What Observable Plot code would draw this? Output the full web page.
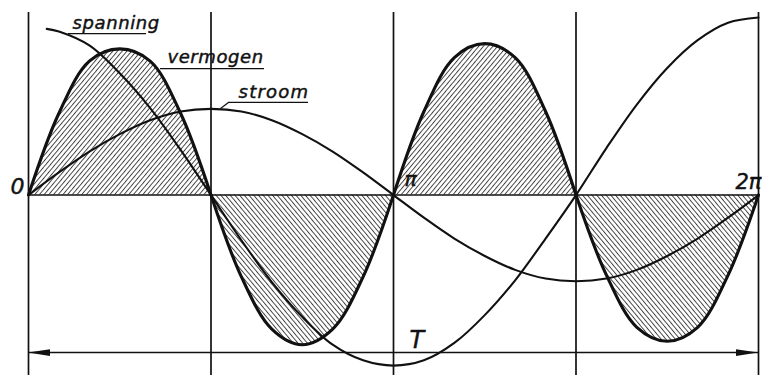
<!DOCTYPE html>
<html>
<head>
<meta charset="utf-8">
<script src="https://cdn.jsdelivr.net/npm/d3@7"></script>
<script src="https://cdn.jsdelivr.net/npm/@observablehq/plot@0.6"></script>
<style>
  html, body { margin: 0; padding: 0; background: #fff; }
  #chart svg { display: block; }
</style>
</head>
<body>
<div id="chart"></div>
<script>
// Phase angle in degrees, sampled every 15°
const phase = [0, 15, 30, 45, 60, 75, 90, 105, 120, 135, 150, 165, 180,
               195, 210, 225, 240, 255, 270, 285, 300, 315, 330, 345, 360];

// Voltage (spanning) – drawn from just after the origin
const spanningPhase = [9, 15, 30, 45, 60, 75, 90, 105, 120, 135, 150, 165, 180,
                       195, 210, 225, 240, 255, 270, 285, 300, 315, 330, 345, 360];
const spanning = [0.955, 0.94, 0.86, 0.70, 0.50, 0.26, 0.0, -0.26, -0.50, -0.70, -0.86, -0.95, -0.98,
                  -0.95, -0.85, -0.69, -0.49, -0.25, 0.0, 0.27, 0.52, 0.73, 0.89, 0.99, 1.02];

// Current (stroom)
const stroom = [0, 0.13, 0.25, 0.35, 0.43, 0.48, 0.495, 0.48, 0.43, 0.35, 0.25, 0.13, 0,
                -0.13, -0.25, -0.35, -0.43, -0.48, -0.495, -0.48, -0.43, -0.35, -0.25, -0.13, 0];

// Power (vermogen)
const vermogen = [0, 0.47, 0.77, 0.84, 0.77, 0.47, 0, -0.47, -0.77, -0.86, -0.77, -0.47, 0,
                  0.48, 0.79, 0.87, 0.79, 0.48, 0, -0.46, -0.76, -0.84, -0.76, -0.46, 0];

// Quarter-period grid lines and axis labels
const quarterTicks = [0, 90, 180, 270, 360];
const tickPhase = [0, 180, 360];
const tickLabels = ["0", "π", "2π"];

const spanningRows = spanningPhase.map((p, i) => ({phase: p, value: spanning[i]}));
const stroomRows = phase.map((p, i) => ({phase: p, value: stroom[i]}));

// Split the power curve into its four half-lobes (shared zero points)
const lobes = [];
for (let k = 0; k < 4; k++) {
  phase.forEach((p, i) => {
    if (p >= 90 * k && p <= 90 * (k + 1)) {
      lobes.push({phase: p, value: vermogen[i], lobe: k, sign: k % 2 === 0 ? 1 : -1});
    }
  });
}

const ink = "#111";
const font = "'DejaVu Sans', 'Liberation Sans', sans-serif";
const italic = {fontFamily: font, fontStyle: "italic", fill: ink, stroke: ink, strokeWidth: 0.45,
                textAnchor: "start", lineAnchor: "bottom"};

const tickLayout = [
  {textAnchor: "end", dx: -4, dy: -1, fontSize: 22},
  {textAnchor: "start", dx: 11, dy: -9, fontSize: 20},
  {textAnchor: "end", dx: 3, dy: -6, fontSize: 21}
];

const chart = Plot.plot({
  width: 762,
  height: 378,
  marginLeft: 28,
  marginRight: 4,
  marginTop: 12,
  marginBottom: 3,
  x: {domain: [0, 360], axis: null},
  y: {domain: [-1.037, 1.049], axis: null},
  style: {background: "#fff"},
  marks: [
    // hatched power lobes
    Plot.areaY(lobes, {filter: d => d.sign > 0, x: "phase", y: "value", z: "lobe",
      curve: "catmull-rom", fill: "url(#hatch-pos)"}),
    Plot.areaY(lobes, {filter: d => d.sign < 0, x: "phase", y: "value", z: "lobe",
      curve: "catmull-rom", fill: "url(#hatch-neg)"}),

    // quarter-period verticals and the zero line
    Plot.ruleX(quarterTicks, {stroke: ink, strokeWidth: 1.7}),
    Plot.ruleY([0], {x1: 0, x2: 360, stroke: ink, strokeWidth: 1.6}),

    // voltage, current, power
    Plot.line(spanningRows, {x: "phase", y: "value", curve: "catmull-rom", stroke: ink, strokeWidth: 2.1}),
    Plot.line(stroomRows, {x: "phase", y: "value", curve: "catmull-rom", stroke: ink, strokeWidth: 2.1}),
    Plot.line(lobes, {x: "phase", y: "value", z: "lobe", curve: "catmull-rom", stroke: ink, strokeWidth: 3.1}),

    // period T
    Plot.ruleY([-0.905], {x1: 0, x2: 360, stroke: ink, strokeWidth: 1.4, ariaDescription: "period"}),
    Plot.text(["T"], {...italic, x: 180, y: -0.905, dx: 16, dy: -5, fontSize: 24}),

    // axis labels 0, π, 2π
    ...tickPhase.map((p, i) =>
      Plot.text([tickLabels[i]], {...italic, x: p, y: 0, ...tickLayout[i]})),

    // call-outs with underline leaders
    Plot.text(["spanning"], {...italic, x: 21.7, y: 0.957, fontSize: 18, ariaDescription: "callout"}),
    Plot.ruleY([0.928], {x1: 19.7, x2: 58.2, stroke: ink, strokeWidth: 1.2}),

    Plot.text(["vermogen"], {...italic, x: 68.5, y: 0.756, fontSize: 18, ariaDescription: "callout"}),
    Plot.ruleY([0.727], {x1: 65.1, x2: 116.4, stroke: ink, strokeWidth: 1.2}),

    Plot.text(["stroom"], {...italic, x: 103.6, y: 0.555, fontSize: 18, ariaDescription: "callout-wide"}),
    Plot.ruleY([0.532], {x1: 98.6, x2: 138.1, stroke: ink, strokeWidth: 1.2}),
    Plot.link([0], {x1: 94.7, y1: 0.497, x2: 98.6, y2: 0.532, stroke: ink, strokeWidth: 1.2})
  ]
});

// hatch patterns and arrowheads
const svg = d3.select(chart);
const defs = svg.insert("defs", ":first-child");
[["hatch-pos", 40], ["hatch-neg", -40]].forEach(([id, angle]) => {
  defs.append("pattern")
      .attr("id", id)
      .attr("patternUnits", "userSpaceOnUse")
      .attr("width", 3.6)
      .attr("height", 10)
      .attr("patternTransform", `rotate(${angle})`)
    .append("line")
      .attr("x1", 0.5).attr("y1", -1)
      .attr("x2", 0.5).attr("y2", 11)
      .attr("stroke", ink)
      .attr("stroke-width", 0.8);
});
defs.append("marker")
    .attr("id", "head")
    .attr("markerUnits", "userSpaceOnUse")
    .attr("markerWidth", 22)
    .attr("markerHeight", 8)
    .attr("viewBox", "0 0 22 8")
    .attr("refX", 22)
    .attr("refY", 4)
    .attr("orient", "auto-start-reverse")
  .append("path")
    .attr("d", "M0,0.6L22,4L0,7.4Z")
    .attr("fill", ink);
svg.selectAll('g[aria-description="period"] line')
    .attr("marker-start", "url(#head)")
    .attr("marker-end", "url(#head)");
svg.selectAll('g[aria-description="callout"] text').style("letter-spacing", "0.6px");
svg.selectAll('g[aria-description="callout-wide"] text').style("letter-spacing", "1.2px");

document.getElementById("chart").append(chart);
</script>
</body>
</html>
